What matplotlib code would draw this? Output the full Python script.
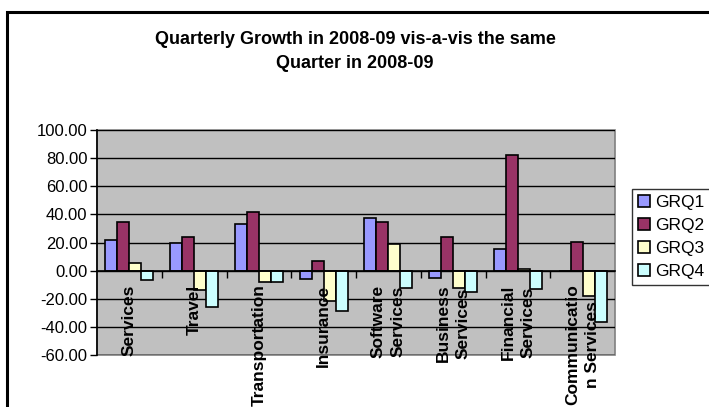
import numpy as np
import matplotlib.pyplot as plt
from matplotlib.patches import Rectangle

plt.rcParams['font.family'] = ['Liberation Sans', 'DejaVu Sans']

# Data
categories = ["Services", "Travel", "Transportation", "Insurance",
              "Software\nServices", "Business\nServices", "Financial\nServices",
              "Communicatio\nn Services"]
grq1 = [21.8, 19.9, 33.4, -6.2, 37.6, -5.5, 15.1, -0.5]
grq2 = [34.8, 23.7, 41.5, 7.0, 34.8, 24.1, 82.0, 20.6]
grq3 = [5.6, -13.8, -7.9, -21.4, 18.9, -12.2, 0.9, -17.8]
grq4 = [-6.7, -26.1, -7.9, -28.5, -12.6, -15.0, -13.3, -36.8]
series = [grq1, grq2, grq3, grq4]
names = ["GRQ1", "GRQ2", "GRQ3", "GRQ4"]
colors = ["#9999FF", "#993366", "#FFFFCC", "#CCFFFF"]

W, H = 709, 407
fig = plt.figure(figsize=(W / 100, H / 100), dpi=100)

# outer chart border (runs off right and bottom edges)
fig.patches.append(Rectangle((7 / W, -0.05), 1.1, 1 - 12 / H + 0.05,
                             transform=fig.transFigure, fill=False,
                             edgecolor='black', linewidth=2.2))

ax = fig.add_axes([97 / W, (H - 355) / H, 518 / W, 225 / H])
ax.set_facecolor('#C0C0C0')
ax.patch.set_edgecolor('#808080')
ax.patch.set_linewidth(1.2)

x = np.arange(len(categories))
bw = 0.185
for k, (vals, nm, c) in enumerate(zip(series, names, colors)):
    ax.bar(x + (k - 1.5) * bw, vals, bw, color=c, edgecolor='black',
           linewidth=1.2, label=nm, zorder=3)

ax.set_xlim(-0.5, len(categories) - 0.5)
ax.set_ylim(-60, 100)
ax.set_yticks(np.arange(-60, 101, 20))
ax.set_yticklabels(["%.2f" % v for v in np.arange(-60, 101, 20)], fontsize=12)
ax.yaxis.grid(True, color='black', linewidth=1, zorder=1)
ax.set_axisbelow(True)

for s in ['top', 'right']:
    ax.spines[s].set_visible(False)
ax.spines['left'].set_linewidth(1.2)
ax.spines['bottom'].set_position(('data', 0))
ax.spines['bottom'].set_linewidth(1.2)
ax.spines['bottom'].set_zorder(4)
ax.tick_params(axis='y', direction='out', length=5, width=1, pad=2)
ax.set_xticks(x)
ax.set_xticklabels([])
ax.tick_params(axis='x', which='major', length=0)
ax.set_xticks(np.arange(0.5, len(categories) - 0.5, 1), minor=True)
ax.tick_params(axis='x', which='minor', direction='out', length=5, width=1)

for i, lab in enumerate(categories):
    ax.annotate(lab, xy=(i, 0), xytext=(0, -10), textcoords='offset points',
                rotation=90, ha='center', va='top', multialignment='center',
                fontsize=12.5, fontweight='bold', annotation_clip=False,
                zorder=5, linespacing=1.4)

fig.text(355 / W, 1 - 39 / H, "Quarterly Growth in 2008-09 vis-a-vis the same",
         ha='center', va='center', fontsize=13, fontweight='bold')
fig.text(355 / W, 1 - 63 / H, "Quarter in 2008-09",
         ha='center', va='center', fontsize=13, fontweight='bold')

leg = fig.legend(loc='upper left', bbox_to_anchor=(632 / W, 1 - 189 / H),
                 fontsize=12.5, frameon=True, fancybox=False, edgecolor='black',
                 handlelength=0.7, handleheight=0.7, handletextpad=0.3,
                 labelspacing=0.45, borderpad=0.35, borderaxespad=0)
leg.get_frame().set_linewidth(1)

fig.savefig("out.png", dpi=100)
